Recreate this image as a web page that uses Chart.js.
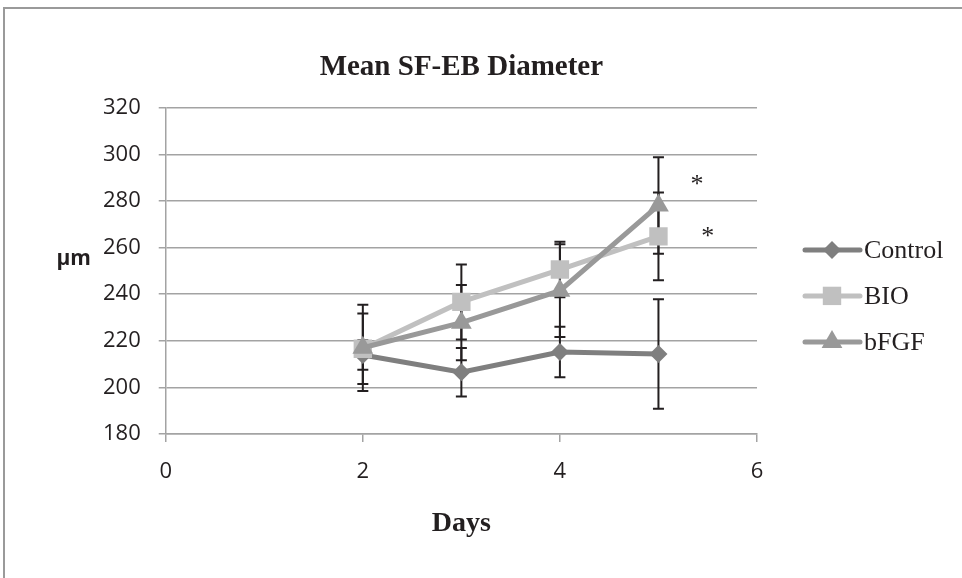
<!DOCTYPE html>
<html>
<head>
<meta charset="utf-8">
<script src="https://cdn.jsdelivr.net/npm/chart.js@4/dist/chart.umd.min.js"></script>
<style>
  html, body { margin: 0; padding: 0; background: #fff; }
  #wrap { position: relative; width: 962px; height: 578px; overflow: hidden; }
  #frame { position: absolute; left: 3px; top: 7px; width: 1200px; height: 800px;
           border-left: 2px solid #9a9a9a; border-top: 2px solid #9a9a9a; pointer-events: none; }
</style>
</head>
<body>
<div id="wrap">
  <canvas id="myChart" width="962" height="578"></canvas>
  <div id="frame"></div>
</div>
<script>
// DATA
const days = [2, 3, 4, 5];
const seriesNames = ['Control', 'BIO', 'bFGF'];
const controlMean = [213.9, 206.5, 215.2, 214.3];
const controlErr = [6.3, 10.4, 10.8, 23.5];
const bioMean = [216.6, 236.7, 250.6, 264.8];
const bioErr = [15.1, 16.1, 11.9, 18.8];
const bfgfMean = [217.0, 227.8, 241.5, 278.1];
const bfgfErr = [18.5, 16.1, 19.9, 20.7];
const xRange = [0, 6];
const yRange = [180, 320];
// significance stars, in data units
const starX = [5.39, 5.5];
const starY = [289, 266.5];

const errors = [controlErr, bioErr, bfgfErr];

function toPoints(vals) {
    return days.map(function (d, i) { return { x: d, y: vals[i] }; });
}

// Error bars, drawn below lines and markers
const errorBars = {
    id: 'errorBars',
    beforeDatasetsDraw: function (chart) {
        const ctx = chart.ctx;
        const xs = chart.scales.x, ys = chart.scales.y;
        ctx.save();
        ctx.strokeStyle = '#231f20';
        ctx.lineWidth = 2;
        chart.data.datasets.forEach(function (ds, i) {
            ds.data.forEach(function (p, j) {
                const x = xs.getPixelForValue(p.x);
                const top = ys.getPixelForValue(p.y + errors[i][j]);
                const bot = ys.getPixelForValue(p.y - errors[i][j]);
                ctx.beginPath();
                ctx.moveTo(x, top); ctx.lineTo(x, bot);
                ctx.moveTo(x - 5.5, top); ctx.lineTo(x + 5.5, top);
                ctx.moveTo(x - 5.5, bot); ctx.lineTo(x + 5.5, bot);
                ctx.stroke();
            });
        });
        ctx.restore();
    }
};

function drawMarker(ctx, style, x, y, r) {
    ctx.beginPath();
    if (style === 'rectRot') {
        ctx.moveTo(x, y - r); ctx.lineTo(x + r, y); ctx.lineTo(x, y + r); ctx.lineTo(x - r, y);
    } else if (style === 'rect') {
        const s = r * Math.SQRT1_2;
        ctx.rect(x - s, y - s, 2 * s, 2 * s);
    } else {
        ctx.moveTo(x, y - r);
        ctx.lineTo(x + r * 0.866, y + r * 0.5);
        ctx.lineTo(x - r * 0.866, y + r * 0.5);
    }
    ctx.closePath();
    ctx.fill();
}

// Legend, y label and stars
const extras = {
    id: 'extras',
    afterDraw: function (chart) {
        const ctx = chart.ctx;
        const area = chart.chartArea;
        const xs = chart.scales.x, ys = chart.scales.y;
        ctx.save();

        // legend
        const mid = (area.top + area.bottom) / 2;
        chart.data.datasets.forEach(function (ds, i) {
            const y = mid - 21 + i * 46;
            const x0 = area.right + 48;
            ctx.strokeStyle = ds.borderColor;
            ctx.lineWidth = 5;
            ctx.lineCap = 'round';
            ctx.beginPath();
            ctx.moveTo(x0, y); ctx.lineTo(x0 + 55, y);
            ctx.stroke();
            ctx.fillStyle = ds.pointBackgroundColor;
            drawMarker(ctx, ds.pointStyle, x0 + 27, y, ds.pointRadius);
            ctx.fillStyle = '#231f20';
            ctx.font = '26px "Liberation Serif", "Times New Roman", serif';
            ctx.textAlign = 'left';
            ctx.textBaseline = 'middle';
            ctx.fillText(ds.label, x0 + 59, y + 1);
        });

        // y axis title, horizontal
        ctx.fillStyle = '#231f20';
        ctx.font = 'bold 21px "Open Sans", sans-serif';
        ctx.textAlign = 'center';
        ctx.textBaseline = 'middle';
        ctx.fillText('\u00b5m', area.left - 92, mid - 12);

        // stars
        ctx.font = '26px "Liberation Serif", serif';
        ctx.textBaseline = 'alphabetic';
        starX.forEach(function (sx, i) {
            ctx.fillText('*', xs.getPixelForValue(sx), ys.getPixelForValue(starY[i]) + 12);
        });
        ctx.restore();
    }
};

const gridColor = '#a3a3a3';

const data = {
    datasets: [
        {
            label: seriesNames[0], data: toPoints(controlMean), order: 3,
            borderColor: '#7f7f7f', backgroundColor: '#7f7f7f', pointBackgroundColor: '#7f7f7f',
            pointStyle: 'rectRot', pointRadius: 9
        },
        {
            label: seriesNames[1], data: toPoints(bioMean), order: 2,
            borderColor: '#c0c0c0', backgroundColor: '#c0c0c0', pointBackgroundColor: '#c0c0c0',
            pointStyle: 'rect', pointRadius: 13
        },
        {
            label: seriesNames[2], data: toPoints(bfgfMean), order: 1,
            borderColor: '#999999', backgroundColor: '#999999', pointBackgroundColor: '#999999',
            pointStyle: 'triangle', pointRadius: 12
        }
    ]
};
data.datasets.forEach(function (ds) {
    ds.borderWidth = 5;
    ds.pointBorderWidth = 0;
    ds.pointBorderColor = ds.borderColor;
    ds.pointHoverRadius = ds.pointRadius;
    ds.tension = 0;
});

const config = {
    type: 'line',
    data: data,
    options: {
        responsive: false,
        animation: false,
        events: [],
        layout: { padding: { top: 40, left: 85, right: 205, bottom: 33 } },
        plugins: {
            legend: { display: false },
            tooltip: { enabled: false },
            title: {
                display: true,
                fullSize: false,
                text: 'Mean SF-EB Diameter',
                color: '#231f20',
                font: { family: '"Liberation Serif", "Times New Roman", serif', size: 29, weight: 'bold' },
                padding: { top: 10, bottom: 23 }
            }
        },
        scales: {
            x: {
                type: 'linear',
                min: xRange[0], max: xRange[1],
                ticks: { stepSize: 2, color: '#231f20', padding: 17,
                    font: { family: '"Open Sans", sans-serif', size: 22 } },
                grid: { drawOnChartArea: false, color: gridColor, lineWidth: 1.5, tickLength: 8 },
                border: { color: gridColor, width: 1.5 },
                title: {
                    display: true, text: 'Days', color: '#231f20',
                    font: { family: '"Liberation Serif", "Times New Roman", serif', size: 28, weight: 'bold' },
                    padding: { top: 5, bottom: 4 }
                }
            },
            y: {
                min: yRange[0], max: yRange[1],
                ticks: { stepSize: 20, color: '#231f20', padding: 18,
                    font: { family: '"Open Sans", sans-serif', size: 22 } },
                grid: { color: gridColor, lineWidth: 1.5, tickLength: 7 },
                border: { color: gridColor, width: 1.5 }
            }
        }
    },
    plugins: [errorBars, extras]
};

const myChart = new Chart(document.getElementById('myChart'), config);
</script>
</body>
</html>
